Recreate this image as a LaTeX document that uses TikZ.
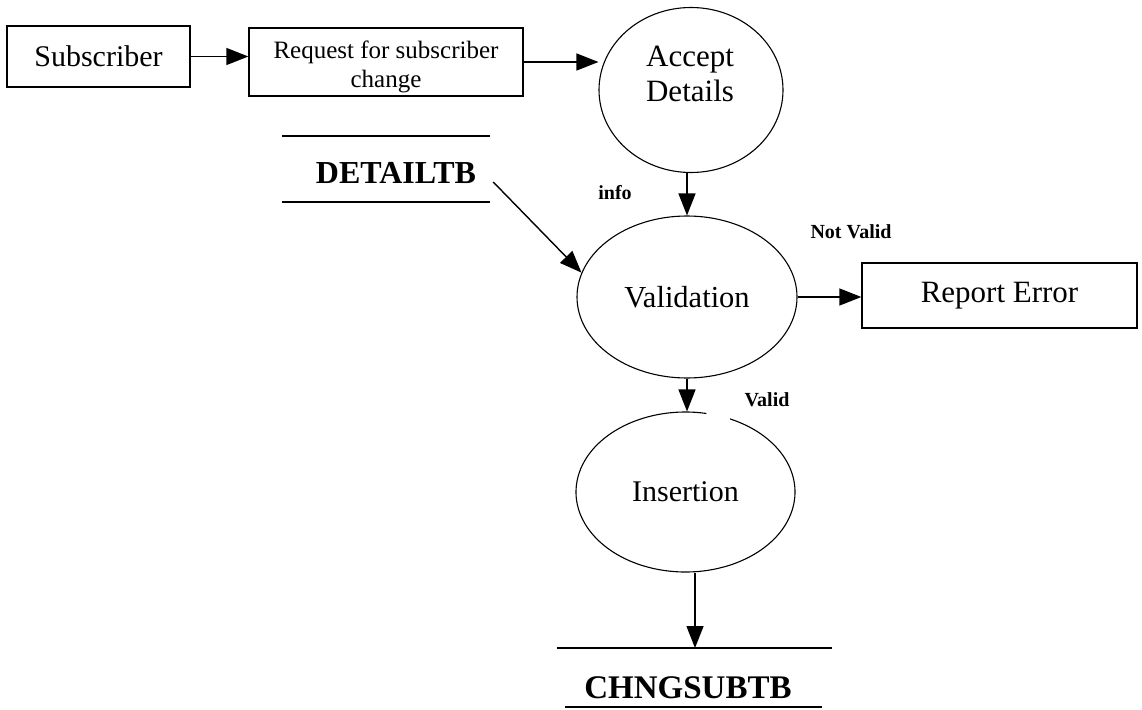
\documentclass[tikz,border=0pt]{standalone}
\usepackage{fontspec}
\setmainfont{Liberation Serif}
\usetikzlibrary{arrows.meta,shapes.geometric}
\begin{document}
\begin{tikzpicture}[x=1pt,y=-1pt,
  box/.style={draw, line width=1.3pt, inner sep=0pt},
  proc/.style={ellipse, draw, line width=1.1pt, inner sep=0pt, align=center,
               font=\fontsize{30}{32}\selectfont},
  flow/.style={line width=1.4pt, -{Triangle[length=22pt,width=17pt]}},
  store/.style={line width=1.3pt},
  lbl/.style={font=\fontsize{20}{22}\selectfont\bfseries, inner sep=0pt},
  storetext/.style={font=\fontsize{32}{34}\selectfont\bfseries, inner sep=0pt},
]
\useasboundingbox (0,0) rectangle (1142,709);

% external entities
\node[box, minimum width=183pt, minimum height=61pt,
      font=\fontsize{30}{32}\selectfont] (sub) at (98.5,56.5) {Subscriber};
\node[box, minimum width=274pt, minimum height=68pt] (req) at (386,62) {};
\node[inner sep=0pt, align=center, font=\fontsize{25}{29}\selectfont]
      (reqtxt) at (386,66.7) {Request for subscriber\\change};
\node[box, minimum width=275pt, minimum height=65pt,
      font=\fontsize{31}{33}\selectfont] (rep) at (999.5,295.5) {Report Error};

% processes
\node[proc, minimum width=184pt, minimum height=165pt] (acc) at (691,90) {};
\node[inner sep=0pt, align=center, font=\fontsize{31}{35}\selectfont]
      (acctxt) at (690,74) {Accept\\Details};
\node[proc, minimum width=220pt, minimum height=162pt,
      font=\fontsize{30.5}{32}\selectfont] (val) at (687,297) {Validation};
\node[proc, draw=none, minimum width=219pt, minimum height=160pt] (ins)
      at (685.5,492) {Insertion};
% outline of the insertion process, open where the "Valid" flow enters
\draw[line width=1.1pt] ([shift={(79:109.5pt and 80pt)}]ins.center)
      arc[start angle=79, end angle=426, x radius=109.5pt, y radius=80pt];

% data stores
\node[storetext] (dtb) at (396,173) {DETAILTB};
\draw[store] (282,136) -- (490,136);
\draw[store] (282,202) -- (490,202);

\node[storetext, font=\fontsize{33}{35}\selectfont\bfseries] (chg) at (688,688) {CHNGSUBTB};
\coordinate (cst) at (695,648);
\draw[store] (557,648) -- (832,648);
\draw[store] (565,707) -- (822,707);

% flows
\draw[flow] (sub.east) -- (sub.east -| req.west);
\draw[flow] (req.east) -- (req.east -| acc.west);
\draw[flow] (acc.south -| val.north) -- (val.north);
\draw[flow] ([shift={(17pt,-9pt)}]dtb.east) -- (val.167);
\draw[flow] (val.east) -- (val.east -| rep.west);
\draw[flow] (val.south) -- (val.south |- ins.north);
\draw[flow] (cst |- ins.south) -- (cst);

% flow labels
\node[lbl] (info) at (615,193) {info};
\node[lbl] (nv) at (851,232) {Not Valid};
\node[lbl] (vd) at (767,400) {Valid};
\end{tikzpicture}
\end{document}
